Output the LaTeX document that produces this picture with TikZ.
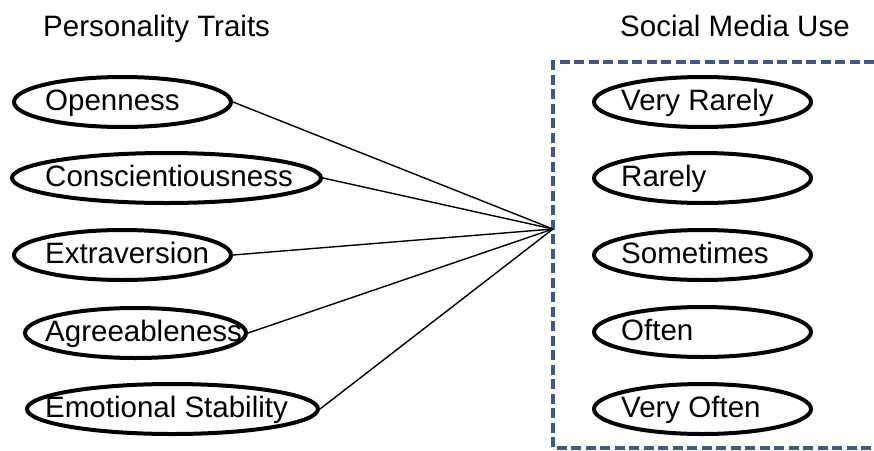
\documentclass[tikz,border=0pt]{standalone}
\usepackage{fontspec}
\setmainfont{Liberation Sans}
\usetikzlibrary{shapes.geometric}
\definecolor{boxblue}{RGB}{59,89,137}
\begin{document}
\begin{tikzpicture}[x=1pt,y=-1pt,
  oval/.style={draw, ellipse, line width=4pt, inner sep=0pt, minimum height=50pt},
  lbl/.style={anchor=base west, inner sep=0pt, font=\fontsize{29.5}{34}\selectfont},
  title/.style={anchor=base west, inner sep=0pt, font=\fontsize{29.5}{34}\selectfont},
  link/.style={line width=1.4pt},
  groupbox/.style={draw=boxblue, line width=4.5pt, dash pattern=on 10pt off 4.5pt}]
\useasboundingbox (0,0) rectangle (874,450);
% titles
\node[title] (tl) at (43,36) {Personality Traits};
\node[title] (tr) at (620,36) {Social Media Use};
% dashed group box
\draw[groupbox] (874,62) -- (553,62) -- (553,448) -- (874,448);
% left ellipses
\node[oval, minimum width=217pt] (o) at (122.5,102) {};
\node[oval, minimum width=309pt] (c) at (166.5,178) {};
\node[oval, minimum width=217pt] (e) at (122.5,255) {};
\node[oval, minimum width=221pt] (a) at (135.5,333) {};
\node[oval, minimum width=291pt] (s) at (172.5,409) {};
\node[lbl] (ot) at (45,110) {Openness};
\node[lbl] (ct) at (45,186) {Conscientiousness};
\node[lbl] (et) at (45,263) {Extraversion};
\node[lbl] (at) at (45,341) {Agreeableness};
\node[lbl] (st) at (45,417) {Emotional Stability};
% right ellipses
\node[oval, minimum width=217pt] (r1) at (702.5,102) {};
\node[oval, minimum width=217pt] (r2) at (702.5,178) {};
\node[oval, minimum width=217pt] (r3) at (702.5,255) {};
\node[oval, minimum width=217pt] (r4) at (702.5,332) {};
\node[oval, minimum width=217pt] (r5) at (702.5,409) {};
\node[lbl] (r1t) at (621,110) {Very Rarely};
\node[lbl] (r2t) at (621,186) {Rarely};
\node[lbl] (r3t) at (621,263) {Sometimes};
\node[lbl] (r4t) at (621,340) {Often};
\node[lbl] (r5t) at (621,417) {Very Often};
% connectors
\coordinate (hub) at (553,229);
\draw[link] (o.east) -- (hub);
\draw[link] (c.east) -- (hub);
\draw[link] (e.east) -- (hub);
\draw[link] (a.east) -- (hub);
\draw[link] (s.east) -- (hub);
\end{tikzpicture}
\end{document}
